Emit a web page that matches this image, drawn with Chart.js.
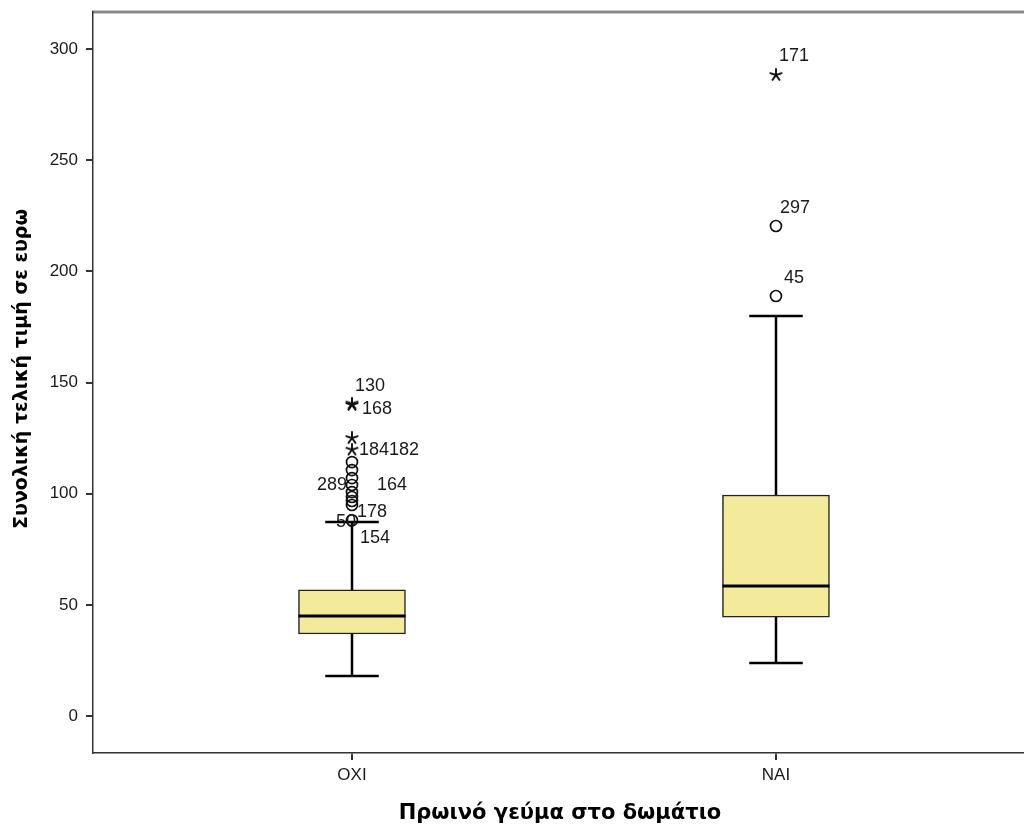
<!DOCTYPE html>
<html>
<head>
<meta charset="utf-8">
<script src="https://cdn.jsdelivr.net/npm/chart.js@4"></script>
<style>
  html, body { margin: 0; padding: 0; background: #ffffff; }
  #wrap { width: 1024px; height: 829px; position: relative; }
</style>
</head>
<body>
<div id="wrap"><canvas id="chart" width="1024" height="829"></canvas></div>
<script>
// Categories (breakfast in room: no / yes)
const categories = ['OXI', 'NAI'];

// Box-plot summaries per category (total final price in euro)
const whiskerLow  = [18.0, 23.8];
const quartile1   = [36.9, 44.5];
const medians     = [45.0, 58.5];
const quartile3   = [56.7, 99.4];
const whiskerHigh = [87.3, 179.9];

// Outliers (o) and extreme values (*) per category
const oxiOutliers  = [114.2, 110.6, 107.0, 103.9, 100.7, 98.5, 96.7, 94.9, 88.0];
const oxiExtremes  = [140.5, 139.9, 125.0, 119.8];
const naiOutliers  = [220.4, 188.9];
const naiExtremes  = [288.3];

// Case labels next to the outlying points: [category index, value, text]
const caseLabelCat   = [0, 0, 0, 0, 0, 0, 0, 0, 0, 1, 1, 1];
const caseLabelValue = [140.5, 139.9, 119.8, 119.8, 103.9, 103.9, 94.9, 88.0, 88.0, 288.3, 220.4, 188.9];
const caseLabelText  = ['130', '168', '184', '182', '289', '164', '178', '50', '154', '171', '297', '45'];

// Y axis tick values
const yTicks = [0, 50, 100, 150, 200, 250, 300];

// Axis titles
const xTitle = 'Πρωινό γεύμα στο δωμάτιο';
const yTitle = 'Συνολική τελική τιμή σε ευρω';

// Label placement relative to its point, in pixels [dx, dy, align]
const caseLabelLayout = [
  [3, -18, 'left'], [10, 4, 'left'], [7, 0, 'left'], [37, 0, 'left'],
  [-5, 0, 'right'], [25, 0, 'left'], [5, 7, 'left'], [4, 2, 'right'],
  [8, 18, 'left'], [3, -19, 'left'], [4, -18, 'left'], [8, -18, 'left']
];

const TICK_FONT = { family: '"Liberation Sans", Arial, sans-serif', size: 17 };
const INK = '#1a1a1a';

// five-armed asterisk used for extreme values
function makeAsterisk() {
  const c = document.createElement('canvas');
  c.width = 14; c.height = 14;
  const g = c.getContext('2d');
  g.strokeStyle = '#111';
  g.lineWidth = 1.9;
  g.lineCap = 'round';
  g.beginPath();
  for (let k = 0; k < 5; k++) {
    const a = -Math.PI / 2 + k * 2 * Math.PI / 5;
    g.moveTo(7, 7);
    g.lineTo(7 + 6 * Math.cos(a), 7 + 6 * Math.sin(a));
  }
  g.stroke();
  return c;
}

const boxPlotExtras = {
  id: 'boxPlotExtras',
  beforeDraw(chart) {
    const { ctx, chartArea } = chart;
    ctx.save();
    // grey frame line along the top of the plot
    ctx.strokeStyle = '#8a8a8a';
    ctx.lineWidth = 3;
    ctx.beginPath();
    ctx.moveTo(chartArea.left - 1, chartArea.top);
    ctx.lineTo(chart.width, chartArea.top);
    ctx.stroke();
    ctx.restore();
  },
  afterDatasetsDraw(chart) {
    const { ctx } = chart;
    const xs = chart.scales.x, ys = chart.scales.y;
    const boxes = chart.getDatasetMeta(0).data;
    ctx.save();
    categories.forEach((c, i) => {
      const cx = Math.round(xs.getPixelForValue(i));
      const w = boxes[i].width;
      const yLo = ys.getPixelForValue(whiskerLow[i]);
      const yQ1 = ys.getPixelForValue(quartile1[i]);
      const yQ3 = ys.getPixelForValue(quartile3[i]);
      const yHi = ys.getPixelForValue(whiskerHigh[i]);
      const yMed = ys.getPixelForValue(medians[i]);
      ctx.strokeStyle = '#000';
      ctx.lineWidth = 2.5;
      ctx.beginPath();
      ctx.moveTo(cx, yQ1); ctx.lineTo(cx, yLo);
      ctx.moveTo(cx, yQ3); ctx.lineTo(cx, yHi);
      ctx.moveTo(cx - w / 4, yLo); ctx.lineTo(cx + w / 4, yLo);
      ctx.moveTo(cx - w / 4, yHi); ctx.lineTo(cx + w / 4, yHi);
      ctx.stroke();
      ctx.lineWidth = 3;
      ctx.beginPath();
      ctx.moveTo(cx - w / 2, yMed); ctx.lineTo(cx + w / 2, yMed);
      ctx.stroke();
    });
    // case labels
    ctx.fillStyle = INK;
    ctx.font = '18px "Liberation Sans", Arial, sans-serif';
    ctx.textBaseline = 'middle';
    caseLabelText.forEach((t, k) => {
      const [dx, dy, align] = caseLabelLayout[k];
      const px = xs.getPixelForValue(caseLabelCat[k]);
      const py = ys.getPixelForValue(caseLabelValue[k]);
      ctx.textAlign = align;
      ctx.fillText(t, px + dx, py + dy);
    });
    // axis titles
    ctx.textAlign = 'center';
    ctx.fillStyle = '#000';
    ctx.font = 'bold 21px "DejaVu Sans", Verdana, sans-serif';
    ctx.fillText(xTitle, 560, 814);
    ctx.font = 'bold 19px "DejaVu Sans", Verdana, sans-serif';
    ctx.translate(22, 369);
    ctx.rotate(-Math.PI / 2);
    ctx.fillText(yTitle, 0, 0);
    ctx.restore();
  }
};

const pts = (cat, arr) => arr.map(v => ({ x: cat, y: v }));

new Chart(document.getElementById('chart'), {
  type: 'bar',
  data: {
    datasets: [
      {
        label: 'box',
        data: categories.map((c, i) => ({ x: i, y: [quartile1[i], quartile3[i]] })),
        backgroundColor: '#f3ea9c',
        borderColor: '#222',
        borderWidth: 1.5,
        borderSkipped: false,
        barThickness: 107
      },
      {
        type: 'scatter',
        label: 'outliers',
        data: pts(0, oxiOutliers).concat(pts(1, naiOutliers)),
        pointStyle: 'circle',
        radius: 5.5,
        borderWidth: 1.7,
        borderColor: '#111',
        backgroundColor: 'rgba(0,0,0,0)'
      },
      {
        type: 'scatter',
        label: 'extremes',
        data: pts(0, oxiExtremes).concat(pts(1, naiExtremes)),
        pointStyle: makeAsterisk(),
        radius: 6
      }
    ]
  },
  options: {
    responsive: false,
    animation: false,
    events: [],
    layout: { autoPadding: false, padding: { top: 12, right: 0, left: 0, bottom: 0 } },
    plugins: { legend: { display: false }, tooltip: { enabled: false } },
    scales: {
      x: {
        type: 'linear',
        offset: false,
        min: -0.6108,
        max: 1.585,
        afterBuildTicks(s) { s.ticks = categories.map((c, i) => ({ value: i })); },
        afterFit(s) { s.height = 76; s.paddingLeft = 0; s.paddingRight = 0; },
        ticks: {
          font: TICK_FONT, color: INK, padding: 5,
          callback: v => categories[v]
        },
        grid: { offset: false, drawOnChartArea: false, tickLength: 7, color: '#333', lineWidth: 2 },
        border: { display: true, color: '#333', width: 1.5 }
      },
      y: {
        type: 'linear',
        min: -16.64,
        max: 316.64,
        afterBuildTicks(s) { s.ticks = yTicks.map(v => ({ value: v })); },
        afterFit(s) { s.width = 93; s.paddingTop = 0; s.paddingBottom = 0; },
        ticks: { font: TICK_FONT, color: INK, padding: 8 },
        grid: { drawOnChartArea: false, tickLength: 7, color: '#333', lineWidth: 2 },
        border: { display: true, color: '#333', width: 1.5 }
      }
    }
  },
  plugins: [boxPlotExtras]
});
</script>
</body>
</html>
